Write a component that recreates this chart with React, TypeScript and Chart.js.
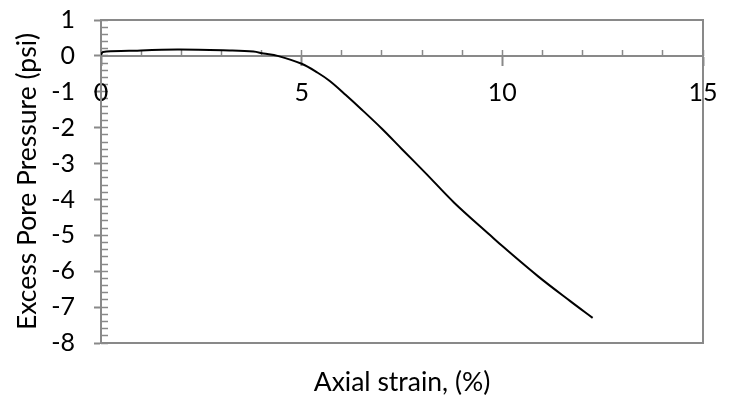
import React, { useEffect, useRef } from 'react';
import { Chart, registerables } from 'chart.js';

Chart.register(...registerables);

// Axial strain (%)
const strain = [0, 0.05, 0.7, 1.9, 3.2, 3.8, 4.05, 4.4, 5.0, 5.4, 5.7, 6.1, 6.5, 7.0, 7.5, 8.1, 8.8, 9.7, 10.0, 10.9, 11.7, 12.25];
// Excess pore pressure (psi)
const pressure = [0.03, 0.11, 0.14, 0.175, 0.15, 0.12, 0.065, 0, -0.22, -0.47, -0.7, -1.09, -1.5, -2.03, -2.6, -3.28, -4.09, -5.0, -5.3, -6.15, -6.84, -7.3];

const xMin = 0;
const xMax = 15;
const xMajorStep = 5;
const xMinorStep = 1;
const yMin = -8;
const yMax = 1;
const yMajorStep = 1;
const yMinorStep = 0.2;

const xTitle = 'Axial strain, (%)';
const yTitle = 'Excess Pore Pressure (psi)';

const GREY = '#898989';
const FONT_FAMILY = 'Lato, "Open Sans", sans-serif';
const TICK_SIZE = 25;
const TITLE_SIZE = 26.5;

export default function App() {
  const canvasRef = useRef<HTMLCanvasElement | null>(null);

  useEffect(() => {
    const canvas = canvasRef.current;
    if (!canvas) return;
    const tickFont = { family: FONT_FAMILY, size: TICK_SIZE, lineHeight: 1.2 };
    const titleFont = { family: FONT_FAMILY, size: TITLE_SIZE, lineHeight: 1.2, weight: 'normal' };

    const framePlugin = {
      id: 'frame',
      beforeDatasetsDraw(chart: any) {
        const { ctx, chartArea } = chart;
        ctx.save();
        ctx.strokeStyle = GREY;
        ctx.lineWidth = 2;
        ctx.strokeRect(chartArea.left, chartArea.top, chartArea.right - chartArea.left, chartArea.bottom - chartArea.top);
        ctx.restore();
      },
    };

    const zeroPad = (s: any) => {
      s.paddingTop = 0;
      s.paddingBottom = 0;
      s.paddingLeft = 0;
      s.paddingRight = 0;
    };

    const chart = new Chart(canvas, {
      type: 'line',
      data: {
        datasets: [
          {
            data: strain.map((x, i) => ({ x, y: pressure[i] })),
            borderColor: '#000000',
            borderWidth: 2,
            pointRadius: 0,
            fill: false,
            tension: 0.35,
            xAxisID: 'x',
            yAxisID: 'y',
          },
        ],
      },
      options: {
        responsive: false,
        animation: false,
        devicePixelRatio: 1,
        layout: { padding: { left: 0, top: 20, right: 27, bottom: 0 } },
        plugins: {
          legend: { display: false },
          tooltip: { enabled: false },
          title: {
            display: true,
            position: 'bottom',
            fullSize: false,
            text: xTitle,
            color: '#000000',
            font: titleFont,
            padding: { top: 24, bottom: 10.2 },
          },
        },
        scales: {
          x: {
            type: 'linear',
            axis: 'x',
            min: xMin,
            max: xMax,
            position: { y: 0 },
            afterFit: (s: any) => { s.height = 0; zeroPad(s); },
            ticks: {
              stepSize: xMajorStep,
              autoSkip: false,
              maxRotation: 0,
              color: '#000000',
              font: tickFont,
              padding: 13.5,
              callback: (v: any) => String(v),
            },
            grid: { drawOnChartArea: false, drawTicks: true, tickLength: 9, tickColor: GREY, tickWidth: 2 },
            border: { display: true, color: GREY, width: 2 },
          },
          xMinor: {
            type: 'linear',
            axis: 'x',
            min: xMin,
            max: xMax,
            position: { y: 0 },
            afterFit: (s: any) => { s.height = 0; zeroPad(s); },
            ticks: { display: false, stepSize: xMinorStep, autoSkip: false },
            grid: { drawOnChartArea: false, drawTicks: true, tickLength: -6, tickColor: GREY, tickWidth: 1.5 },
            border: { display: false },
          },
          y: {
            type: 'linear',
            axis: 'y',
            min: yMin,
            max: yMax,
            position: 'left',
            afterFit: (s: any) => { s.width = 101; zeroPad(s); },
            ticks: {
              stepSize: yMajorStep,
              autoSkip: false,
              color: '#000000',
              font: tickFont,
              padding: 19,
              callback: (v: any) => String(v),
            },
            grid: { drawOnChartArea: false, drawTicks: true, tickLength: 7, tickColor: GREY, tickWidth: 2 },
            border: { display: true, color: GREY, width: 2 },
            title: {
              display: true,
              text: yTitle,
              color: '#000000',
              font: titleFont,
              padding: { top: 12, bottom: 0 },
            },
          },
          yMinor: {
            type: 'linear',
            axis: 'y',
            min: yMin,
            max: yMax,
            position: { x: 0 },
            afterFit: (s: any) => { s.width = 0; zeroPad(s); },
            ticks: { display: false, stepSize: yMinorStep, autoSkip: false },
            grid: { drawOnChartArea: false, drawTicks: true, tickLength: -7, tickColor: GREY, tickWidth: 1.5 },
            border: { display: false },
          },
        },
      } as any,
      plugins: [framePlugin],
    });

    return () => chart.destroy();
  }, []);

  return (
    <div style={{ position: 'fixed', left: 0, top: 0, width: 730, height: 409, background: '#ffffff' }}>
      <canvas ref={canvasRef} width={730} height={409} />
    </div>
  );
}
